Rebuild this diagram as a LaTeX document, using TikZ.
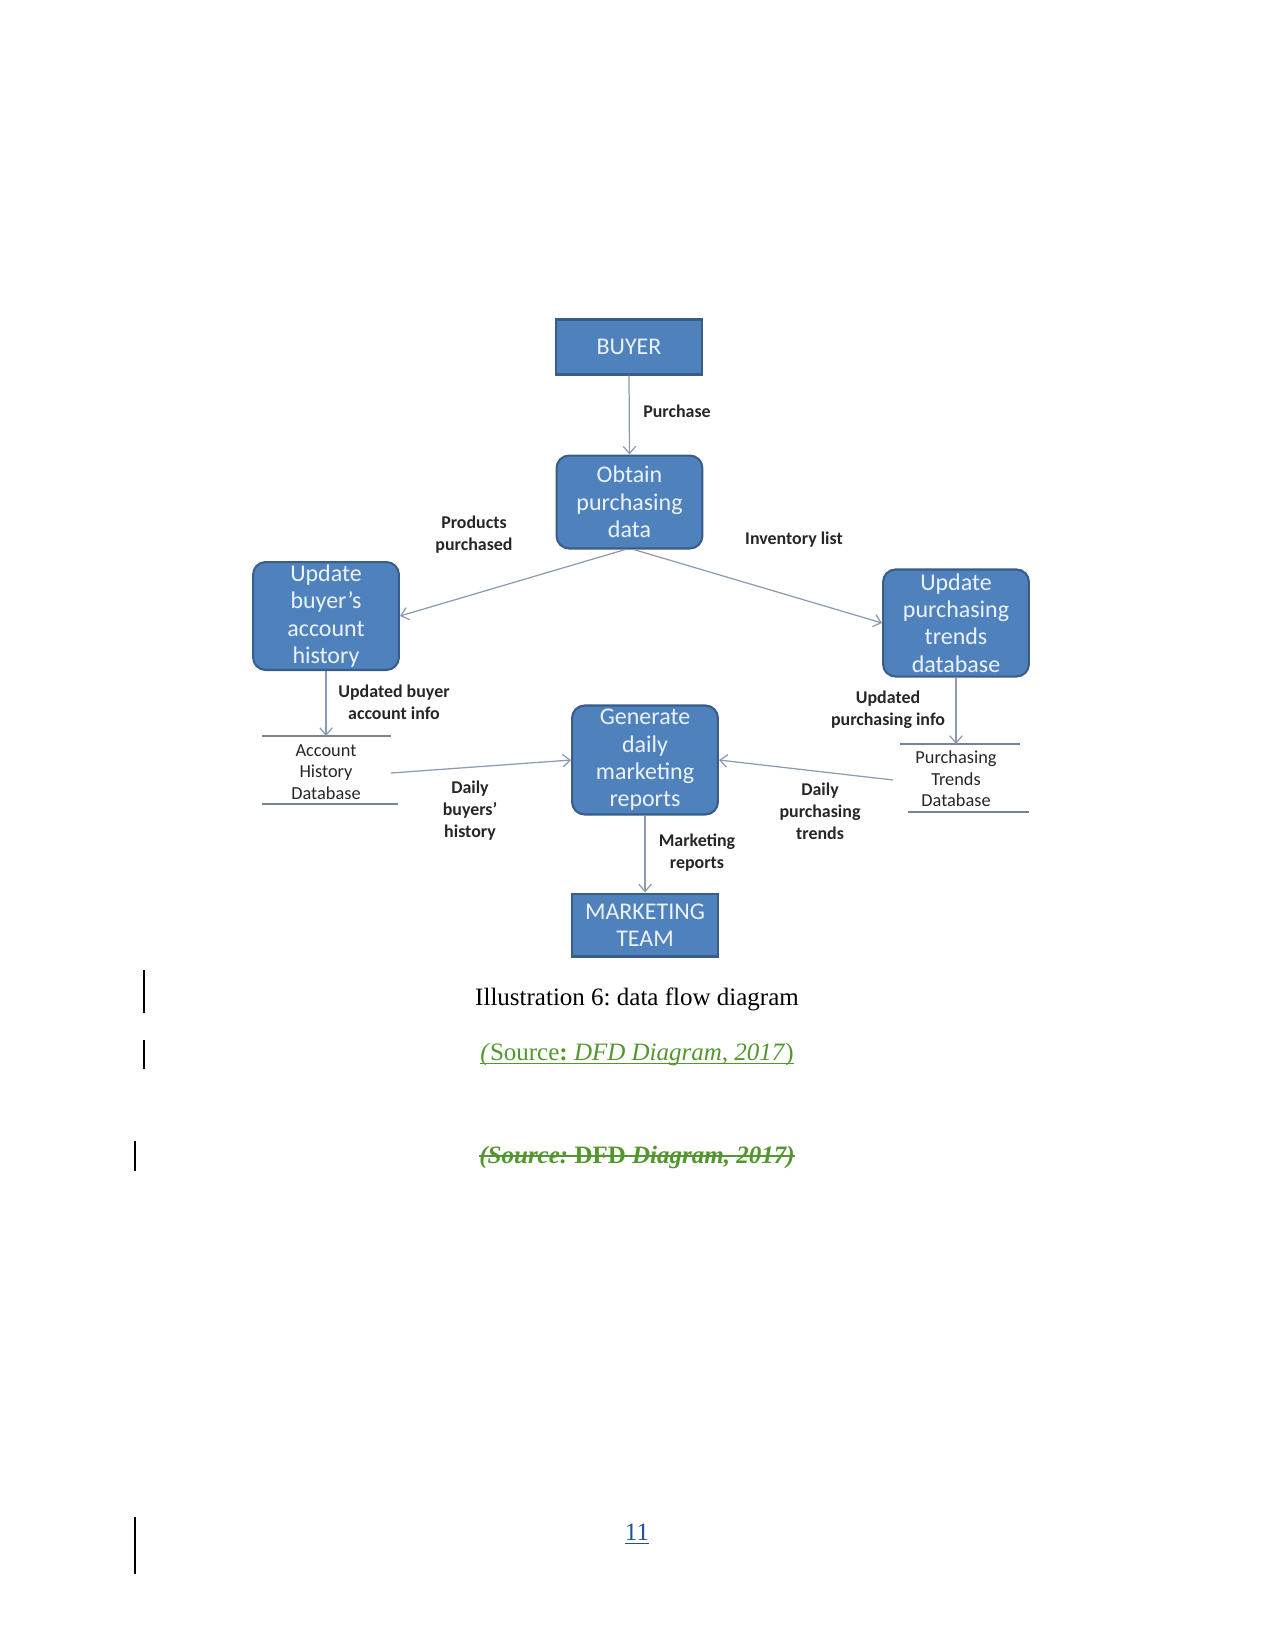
\documentclass[tikz,border=0pt]{standalone}
\usepackage{fontspec}
\setmainfont{Liberation Serif}
\newfontfamily\calfont{Carlito}
\usetikzlibrary{arrows.meta}
\definecolor{boxfill}{RGB}{79,129,189}
\definecolor{boxline}{RGB}{56,93,138}
\definecolor{boxtext}{RGB}{236,242,250}
\definecolor{flow}{RGB}{140,155,175}
\definecolor{srcgreen}{RGB}{84,150,46}
\definecolor{pgblue}{RGB}{30,80,155}
\frenchspacing
\begin{document}
\begin{tikzpicture}[x=0.48pt,y=-0.48pt,
  proc/.style={draw=boxline, line width=1pt, fill=boxfill, rounded corners=6pt, text=boxtext,
    font=\calfont\fontsize{11.5}{13.1}\selectfont, align=center, inner sep=0pt, minimum width=70pt},
  ext/.style={proc, rounded corners=0pt},
  lbl/.style={font=\calfont\bfseries\fontsize{8.6}{10.6}\selectfont, align=center, text=black!85, inner sep=0pt},
  storetxt/.style={font=\calfont\fontsize{8.8}{10.3}\selectfont, align=center, text=black!85, inner sep=0pt},
  flowline/.style={draw=flow, line width=0.6pt, -{Straight Barb[length=3.5pt,width=6pt]}},
  storeline/.style={draw=flow!85!black, line width=0.6pt},
  caption/.style={font=\fontsize{12}{14}\selectfont, inner sep=0pt},
  rule/.style={line width=0.6pt},
  changebar/.style={line width=0.6pt}]
\useasboundingbox (0,0) rectangle (1275,1651);

% processes and externals
\node[ext, minimum height=26.4pt] (buyer) at (629,347) {BUYER};
\node[proc, minimum height=44.6pt] (obtain) at (629.5,502) {Obtain\\purchasing\\data};
\node[proc, minimum height=51.8pt] (upbuyer) at (326,616) {Update\\buyer’s\\account\\history};
\node[proc, minimum height=51.4pt] (uptrend) at (956,623) {Update\\purchasing\\trends\\database};
\node[proc, minimum height=52.3pt] (gen) at (645,760) {Generate\\daily\\marketing\\reports};
\node[ext, minimum height=30.2pt] (team) at (645,925) {MARKETING\\TEAM};

% data stores
\node[storetxt] (acc) at (326,772) {Account\\History\\Database};
\node[storetxt] (ptd) at (956,779) {Purchasing\\Trends\\Database};
\coordinate (accTL) at (262,736); \coordinate (accTR) at (391,736);
\coordinate (accBL) at (262,804); \coordinate (accBR) at (398,804);
\coordinate (ptdTL) at (900,744); \coordinate (ptdTR) at (1020,744);
\coordinate (ptdBL) at (908,812); \coordinate (ptdBR) at (1029,812);
\draw[storeline] (accTL) -- (accTR);
\draw[storeline] (accBL) -- (accBR);
\draw[storeline] (ptdTL) -- (ptdTR);
\draw[storeline] (ptdBL) -- (ptdBR);
\coordinate (accIn) at (326,736);
\coordinate (ptdIn) at (956,744);
\coordinate (accOut) at (391,773);
\coordinate (ptdOut) at (893,780);

% flows
\draw[flowline] (buyer.south) -- (obtain.north);
\draw[flowline] ([xshift=-2pt]obtain.south) -- (upbuyer.east);
\draw[flowline] ([xshift=2pt]obtain.south) -- (uptrend.west);
\draw[flowline] (upbuyer.south) -- (accIn);
\draw[flowline] (uptrend.south) -- (ptdIn);
\draw[flowline] (accOut) -- (gen.west);
\draw[flowline] (ptdOut) -- (gen.east);
\draw[flowline] (gen.south) -- (team.north);

% flow labels
\node[lbl] (lpurchase) at (677,411) {Purchase};
\node[lbl] (lproducts) at (474,535) {Products\\purchased};
\node[lbl] (linventory) at (794,540) {Inventory list};
\node[lbl] (lupbuyer) at (394,702) {Updated buyer\\account info};
\node[lbl] (luptrend) at (888,710) {Updated\\purchasing info};
\node[lbl] (ldbuyers) at (470,811) {Daily\\buyers’\\history};
\node[lbl] (ldtrends) at (820,811) {Daily\\purchasing\\trends};
\node[lbl] (lreports) at (697,853) {Marketing\\reports};

% caption
\node[caption] (cap) at (637,999) {Illustration 6: data flow diagram};
\node[caption, text=srcgreen] (src) at (637,1054) {\textit{(}Source\textbf{:} \textit{DFD Diagram, 2017})};
\draw[rule, srcgreen] ([yshift=-1.6pt]src.base west) -- ([yshift=-1.6pt]src.base east);
\node[caption, text=srcgreen] (src2) at (637,1157) {\textbf{\textit{(Source:} DFD \textit{Diagram, 2017)}}};
\draw[rule, srcgreen] ([yshift=3.4pt]src2.base west) -- ([yshift=3.4pt]src2.base east);
\node[caption, text=pgblue] (pg) at (637,1532) {11};
\draw[rule, pgblue] ([yshift=-1.6pt]pg.base west) -- ([yshift=-1.6pt]pg.base east);

% change bars
\draw[changebar] (144,970) -- (144,1013);
\draw[changebar] (144,1040) -- (144,1069);
\draw[changebar] (135,1141) -- (135,1171);
\draw[changebar] (135,1517) -- (135,1574);
\end{tikzpicture}
\end{document}
